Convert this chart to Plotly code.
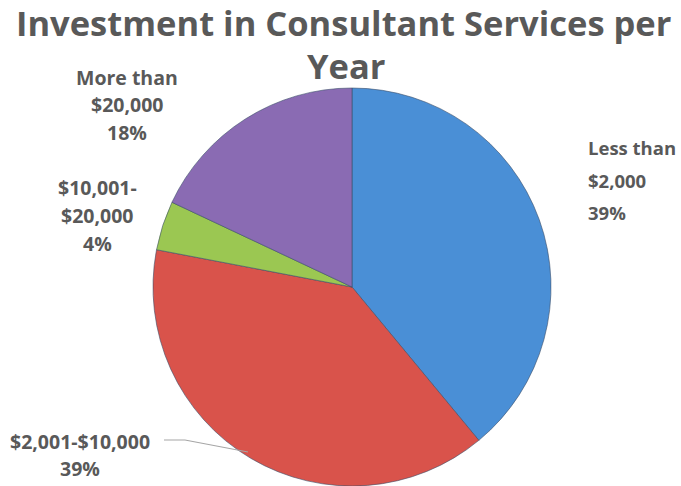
import plotly.graph_objects as go

categories = ["Less than $2,000", "$2,001-$10,000", "$10,001-$20,000", "More than $20,000"]
values = [39, 39, 4, 18]
colors = ["#4a8fd6", "#d9534b", "#9bc752", "#8a6bb3"]
label_lines = [
    ["Less than", "$2,000"],
    ["$2,001-$10,000"],
    ["$10,001-", "$20,000"],
    ["More than", "$20,000"],
]
title_lines = ["Investment in Consultant Services per", "Year"]

W, H = 681, 486
TXT = "#595959"
FONT = "Open Sans"

fig = go.Figure(go.Pie(
    labels=categories,
    values=values,
    sort=False,
    direction="clockwise",
    rotation=0,
    marker=dict(colors=colors, line=dict(color="#3d4f6a", width=0.6)),
    textinfo="none",
    hoverinfo="label+percent",
    domain=dict(x=[(352 - 199) / W, (352 + 199) / W], y=[0, 1 - 88 / H]),
    showlegend=False,
))

annotations = []
def add(text, x, y, size, anchor="center"):
    annotations.append(dict(text=text, x=x / W, y=1 - y / H, xref="paper", yref="paper",
                            showarrow=False, xanchor=anchor, yanchor="middle",
                            font=dict(family=FONT, size=size, color=TXT)))

# title
add("<b>%s</b>" % title_lines[0], 343, 22, 34.5)
add("<b>%s</b>" % title_lines[1], 346, 66, 34.5)

# label positions: (x, first line y, spacing, anchor, size)
pos = [
    (586, 148, 32, "left", 18.5),
    (80, 441, 27, "center", 19.5),
    (97, 187, 28, "center", 19.5),
    (127, 77, 27.5, "center", 19.5),
]
for lines, v, (x, y0, dy, anc, sz) in zip(label_lines, values, pos):
    all_lines = lines + ["%d%%" % v]
    for i, t in enumerate(all_lines):
        add("<b>%s</b>" % t, x, y0 + i * dy, sz, anc)

shapes = [dict(type="path", xref="paper", yref="paper",
               path="M %f %f L %f %f L %f %f" % (164 / W, 1 - 440 / H, 185 / W, 1 - 440 / H, 248 / W, 1 - 452 / H),
               line=dict(color="#a6a6a6", width=1.2))]

fig.update_layout(
    width=W, height=H,
    margin=dict(l=0, r=0, t=0, b=0),
    paper_bgcolor="white", plot_bgcolor="white",
    annotations=annotations, shapes=shapes,
)
fig.write_html("out.html", config={"displayModeBar": False},
               post_script="document.body.style.margin='0';")
